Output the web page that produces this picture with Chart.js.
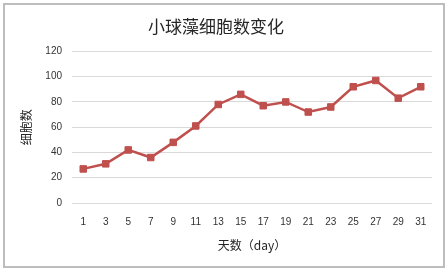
<!DOCTYPE html>
<html>
<head>
<meta charset="utf-8">
<script src="https://cdn.jsdelivr.net/npm/chart.js@4"></script>
<style>
  html, body { margin: 0; padding: 0; background: #fff; }
  #wrap { width: 448px; height: 271px; position: relative; }
</style>
</head>
<body>
<div id="wrap"><canvas id="algaeChart"></canvas></div>
<script>
// days and cell counts
const days = ['1', '3', '5', '7', '9', '11', '13', '15', '17', '19', '21', '23', '25', '27', '29', '31'];
const cellCounts = [27, 31, 42, 36, 48, 61, 78, 86, 77, 80, 72, 76, 92, 97, 83, 92];
const yTicks = [0, 20, 40, 60, 80, 100, 120];

const cjk = '"Noto Sans CJK SC", "Liberation Sans", sans-serif';
const latin = '"Liberation Sans", "Noto Sans CJK SC", sans-serif';

// grey frame round the whole chart
const framePlugin = {
  id: 'frame',
  beforeDraw(chart) {
    const ctx = chart.ctx;
    ctx.save();
    ctx.fillStyle = '#fff';
    ctx.fillRect(0, 0, chart.width, chart.height);
    ctx.strokeStyle = '#bdbdbd';
    ctx.lineWidth = 2;
    ctx.strokeRect(4, 4, 440, 263);
    ctx.restore();
  }
};

const ctx = document.getElementById('algaeChart').getContext('2d');
new Chart(ctx, {
  type: 'line',
  data: {
    labels: days,
    datasets: [{
      data: cellCounts,
      borderColor: '#c0504d',
      backgroundColor: '#c0504d',
      borderWidth: 2.5,
      pointStyle: 'rect',
      pointRadius: 4.6,
      pointBorderWidth: 1,
      pointBackgroundColor: '#c0504d',
      pointBorderColor: '#c0504d',
      tension: 0
    }]
  },
  options: {
    responsive: true,
    maintainAspectRatio: false,
    animation: false,
    layout: { padding: { left: 0, right: 16, top: 0, bottom: 0 } },
    plugins: {
      legend: { display: false },
      tooltip: { enabled: false },
      title: {
        display: true,
        text: '小球藻细胞数变化',
        color: '#262626',
        font: { family: cjk, size: 17, weight: 'normal' },
        padding: { top: 16, bottom: 15 }
      }
    },
    scales: {
      x: {
        offset: true,
        grid: { display: false, drawTicks: false },
        border: { display: false },
        ticks: {
          color: '#333',
          font: { family: latin, size: 10 },
          padding: 13,
          maxRotation: 0,
          autoSkip: false
        },
        title: {
          display: true,
          text: '天数（day）',
          color: '#262626',
          font: { family: cjk, size: 12 },
          padding: { top: 0, bottom: 18 }
        },
        afterFit(scale) { scale.height = 68; }
      },
      y: {
        min: 0,
        max: 120,
        afterBuildTicks(scale) { scale.ticks = yTicks.map(v => ({ value: v })); },
        grid: { color: '#d9d9d9', lineWidth: 1, drawTicks: false },
        border: { display: false },
        ticks: {
          color: '#333',
          font: { family: latin, size: 10 },
          padding: 10
        },
        title: {
          display: true,
          text: '细胞数',
          color: '#262626',
          font: { family: cjk, size: 12 },
          padding: { top: 19, bottom: 0 }
        },
        afterFit(scale) { scale.width = 72; }
      }
    }
  },
  plugins: [framePlugin]
});
</script>
</body>
</html>
